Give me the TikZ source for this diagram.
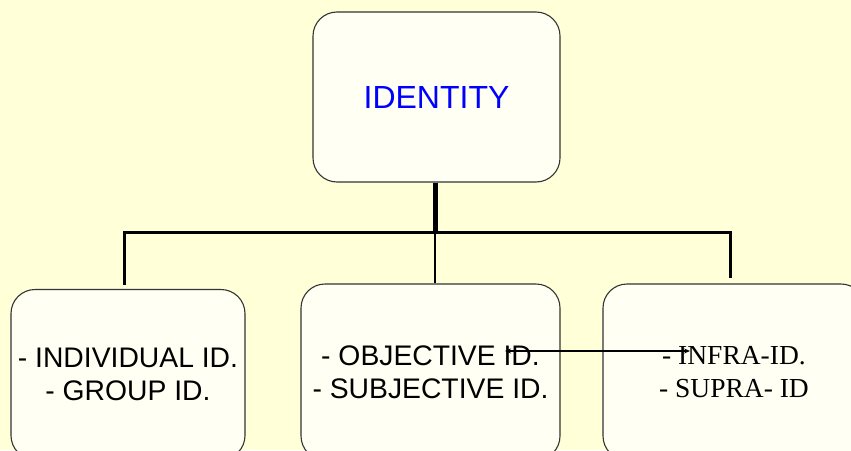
\documentclass[tikz,border=0pt]{standalone}
\usepackage{fontspec}
\setmainfont{Liberation Sans}
\newfontfamily\timesfont{Liberation Serif}
\usetikzlibrary{arrows.meta}
\definecolor{idpaper}{HTML}{FFFFD8}
\definecolor{idbox}{HTML}{FFFFF4}
\definecolor{idedge}{HTML}{333333}
\definecolor{idblue}{HTML}{0000FF}

\begin{document}
\begin{tikzpicture}[x=1pt, y=-1pt,
        idbox/.style={draw=idedge, line width=1.1pt, fill=idbox, rounded corners=24pt, align=center, inner sep=0pt},
        bus/.style={line width=3pt, line cap=rect}
    ]
      \useasboundingbox (0,0) rectangle (851,450);
      \clip (0,0) rectangle (851,450);
      \fill[idpaper] (0,0) rectangle (851,450);

      % Top box
      \node[idbox, minimum width=247pt, minimum height=170pt, text=idblue,
            font=\fontsize{32}{36}\selectfont] (identity) at (436.5,97) {IDENTITY};

      % Lower boxes
      \node[idbox, minimum width=234pt, minimum height=170pt,
            font=\fontsize{28.3}{33}\selectfont] (personal) at (128,374.5) {- INDIVIDUAL ID.\\- GROUP ID.};
      \node[idbox, minimum width=259pt, minimum height=176pt,
            font=\fontsize{28.3}{33}\selectfont] (view) at (430.5,372) {- OBJECTIVE ID.\\- SUBJECTIVE ID.};
      \node[idbox, minimum width=262pt, minimum height=176pt,
            font=\timesfont\fontsize{27.5}{33}\selectfont] (level) at (734,372) {- INFRA-ID.\\- SUPRA- ID};

      % Bus
      \coordinate (busL) at (124,232);
      \coordinate (busM) at (435,232);
      \coordinate (busR) at (730,232);
      \draw[line width=5pt] (identity.south -| busM) -- (busM);
      \draw[bus] (busL) -- (busR);
      \draw[bus, line cap=butt] (busL) -- ([yshift=4pt]busL |- personal.north);
      \draw[bus, line cap=butt, line width=2.5pt] (busM) -- (busM |- view.north);
      \draw[bus, line cap=butt] (busR) -- ([yshift=5pt]busR |- level.north);

      % Link
      \coordinate (objtip) at (505,351);
      \coordinate (infratip) at (690,351);
      \draw[line width=1.6pt, {Stealth[length=6pt,width=5pt]}-{Stealth[length=6pt,width=5pt]}] (objtip) -- (infratip);
    \end{tikzpicture}
\end{document}
